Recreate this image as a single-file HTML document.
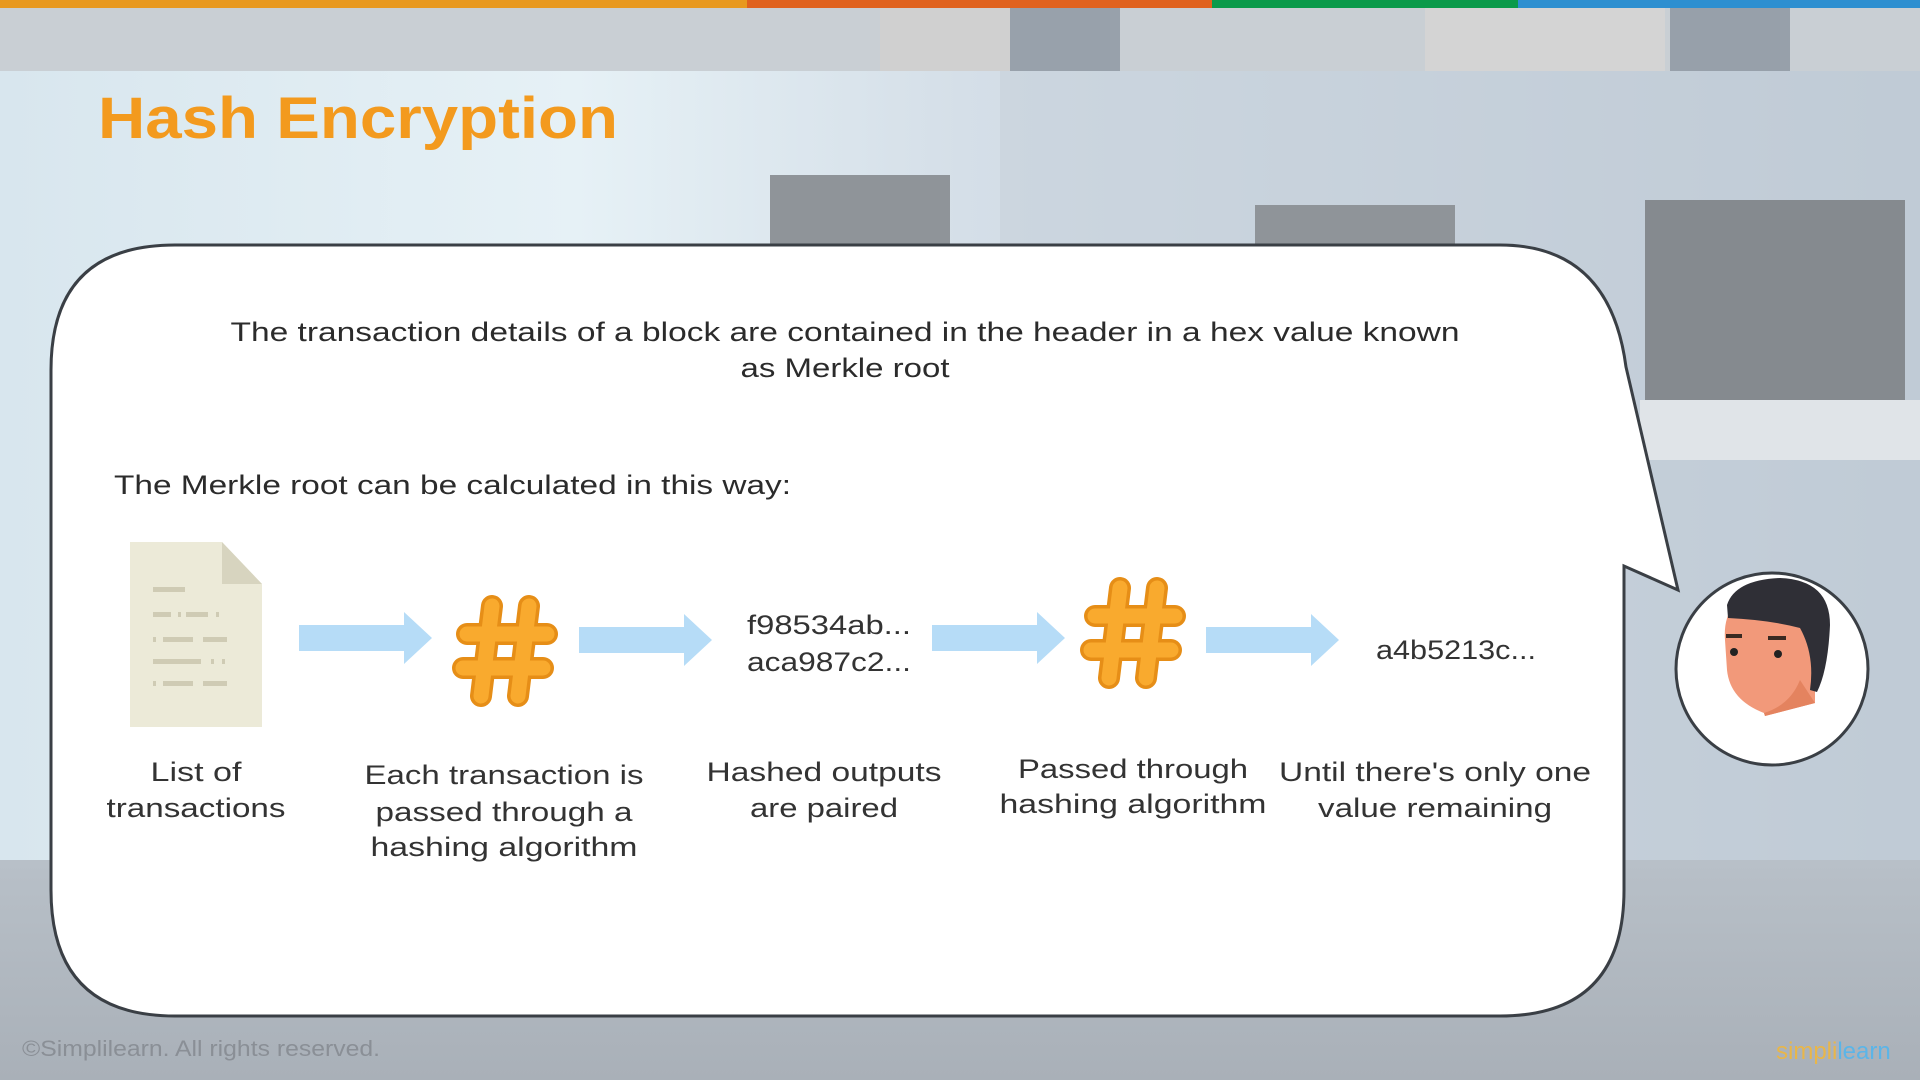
<!DOCTYPE html>
<html><head><meta charset="utf-8"><style>
html,body{margin:0;padding:0;width:1920px;height:1080px;overflow:hidden}
svg{display:block}
text{font-family:"Liberation Sans",sans-serif}
</style></head><body>
<svg width="1920" height="1080" viewBox="0 0 1920 1080" xmlns="http://www.w3.org/2000/svg">
<defs>
<linearGradient id="bg" x1="0" y1="0" x2="1" y2="0">
<stop offset="0" stop-color="#d8e6ee"/><stop offset="0.3" stop-color="#e6f1f6"/><stop offset="0.5" stop-color="#d5dfe8"/><stop offset="1" stop-color="#bcc8d4"/>
</linearGradient>
<linearGradient id="fl" x1="0" y1="0" x2="0" y2="1">
<stop offset="0" stop-color="#b8c0c8"/><stop offset="1" stop-color="#a9b0b8"/>
</linearGradient>
<g id="hash">
<g stroke="#e68e17" stroke-width="22" stroke-linecap="round">
<line x1="33" y1="8" x2="22" y2="98"/><line x1="70" y1="8" x2="59" y2="98"/>
<line x1="8" y1="36" x2="88" y2="36"/><line x1="4" y1="70" x2="84" y2="70"/>
</g>
<g stroke="#f9aa2e" stroke-width="15" stroke-linecap="round">
<line x1="33" y1="8" x2="22" y2="98"/><line x1="70" y1="8" x2="59" y2="98"/>
<line x1="8" y1="36" x2="88" y2="36"/><line x1="4" y1="70" x2="84" y2="70"/>
</g>
</g>
<polygon id="arr" points="0,-13 105,-13 105,-26 133,0 105,26 105,13 0,13" fill="#b6dcf7"/>
</defs>
<rect width="1920" height="1080" fill="url(#bg)"/>
<rect x="0" y="860" width="1920" height="220" fill="url(#fl)"/>
<rect x="1000" y="0" width="920" height="860" fill="#c4ced8" opacity="0.5"/>
<rect x="770" y="175" width="180" height="80" fill="#8f9499"/>
<rect x="1255" y="205" width="200" height="60" fill="#8f9499"/>
<rect x="1645" y="200" width="260" height="200" fill="#858a8f"/>
<rect x="1640" y="400" width="280" height="60" fill="#e0e4e8"/>
<rect x="0" y="8" width="1920" height="63" fill="#c9cfd4"/>
<rect x="880" y="8" width="240" height="63" fill="#d0d0d0"/>
<rect x="1010" y="8" width="110" height="63" fill="#98a1ab"/>
<rect x="1425" y="8" width="240" height="63" fill="#d4d4d4"/>
<rect x="1670" y="8" width="120" height="63" fill="#97a0aa"/>
<rect x="0" y="0" width="747" height="8" fill="#e8991f"/>
<rect x="747" y="0" width="465" height="8" fill="#e0621e"/>
<rect x="1212" y="0" width="306" height="8" fill="#0a9a4a"/>
<rect x="1518" y="0" width="402" height="8" fill="#2d8fd0"/>
<text x="98" y="138" font-size="58" font-weight="bold" fill="#f39a1e" textLength="520" lengthAdjust="spacingAndGlyphs">Hash Encryption</text>
<path d="M175,245 L1500,245 Q1610,245 1626,367 L1678,590 L1624,566 L1624,890 Q1624,1016 1500,1016 L175,1016 Q51,1016 51,890 L51,370 Q51,245 175,245 Z" fill="#fff" stroke="#3a3f45" stroke-width="3"/>
<g font-size="27" fill="#2b2b2b" text-anchor="middle" lengthAdjust="spacingAndGlyphs">
<text x="845" y="341" textLength="1229" lengthAdjust="spacingAndGlyphs">The transaction details of a block are contained in the header in a hex value known</text>
<text x="845" y="377" textLength="209" lengthAdjust="spacingAndGlyphs">as Merkle root</text>
</g>
<text x="114" y="494" font-size="27" fill="#2b2b2b" textLength="677" lengthAdjust="spacingAndGlyphs">The Merkle root can be calculated in this way:</text>
<path d="M130,542 L222,542 L262,584 L262,727 L130,727 Z" fill="#ecead8"/>
<path d="M222,542 L262,584 L222,584 Z" fill="#d7d4bf"/>
<g fill="#cfcbb4">
<rect x="153" y="587" width="32" height="5"/>
<rect x="153" y="612" width="18" height="5"/><rect x="178" y="612" width="3" height="5"/><rect x="186" y="612" width="22" height="5"/><rect x="216" y="612" width="3" height="5"/>
<rect x="153" y="637" width="3" height="5"/><rect x="163" y="637" width="30" height="5"/><rect x="203" y="637" width="24" height="5"/>
<rect x="153" y="659" width="48" height="5"/><rect x="211" y="659" width="3" height="5"/><rect x="222" y="659" width="3" height="5"/>
<rect x="153" y="681" width="3" height="5"/><rect x="163" y="681" width="30" height="5"/><rect x="203" y="681" width="24" height="5"/>
</g>
<use href="#arr" x="299" y="638"/>
<use href="#arr" x="579" y="640"/>
<use href="#arr" x="932" y="638"/>
<use href="#arr" x="1206" y="640"/>
<use href="#hash" x="459" y="598"/>
<use href="#hash" x="1087" y="580"/>
<g font-size="27" fill="#333" text-anchor="middle">
<text x="829" y="634" textLength="164" lengthAdjust="spacingAndGlyphs">f98534ab...</text>
<text x="829" y="671" textLength="164" lengthAdjust="spacingAndGlyphs">aca987c2...</text>
<text x="1456" y="659" textLength="160" lengthAdjust="spacingAndGlyphs">a4b5213c...</text>
<text x="196" y="781" textLength="91" lengthAdjust="spacingAndGlyphs">List of</text><text x="196" y="817" textLength="179" lengthAdjust="spacingAndGlyphs">transactions</text>
<text x="504" y="784" textLength="279" lengthAdjust="spacingAndGlyphs">Each transaction is</text><text x="504" y="821" textLength="257" lengthAdjust="spacingAndGlyphs">passed through a</text><text x="504" y="856" textLength="267" lengthAdjust="spacingAndGlyphs">hashing algorithm</text>
<text x="824" y="781" textLength="235" lengthAdjust="spacingAndGlyphs">Hashed outputs</text><text x="824" y="817" textLength="148" lengthAdjust="spacingAndGlyphs">are paired</text>
<text x="1133" y="778" textLength="230" lengthAdjust="spacingAndGlyphs">Passed through</text><text x="1133" y="813" textLength="267" lengthAdjust="spacingAndGlyphs">hashing algorithm</text>
<text x="1435" y="781" textLength="312" lengthAdjust="spacingAndGlyphs">Until there's only one</text><text x="1435" y="817" textLength="234" lengthAdjust="spacingAndGlyphs">value remaining</text>
</g>
<circle cx="1772" cy="669" r="96" fill="#fff" stroke="#3a3f45" stroke-width="3"/>
<path d="M1725,640 Q1722,600 1760,590 L1808,610 L1815,690 L1815,703 L1765,716 L1764,713 Q1730,700 1727,670 Z" fill="#f2997a"/>
<path d="M1800,680 L1815,703 L1765,716 L1764,713 Q1790,705 1800,680 Z" fill="#e4835f"/>
<path d="M1727,605 Q1735,580 1780,578 Q1830,580 1830,625 Q1828,670 1817,692 L1810,690 Q1815,655 1800,628 Q1770,620 1728,618 Z" fill="#2f2f36"/>
<circle cx="1734" cy="652" r="4" fill="#222"/><circle cx="1778" cy="654" r="4" fill="#222"/>
<rect x="1726" y="634" width="16" height="4" fill="#3a2a22"/><rect x="1768" y="636" width="18" height="4" fill="#3a2a22"/>
<text x="22" y="1056" font-size="22" fill="#8a8f96" textLength="358" lengthAdjust="spacingAndGlyphs">©Simplilearn. All rights reserved.</text>
<text x="1776" y="1059" font-size="24" fill="#e8b64a">simpli<tspan fill="#5bb5e8">learn</tspan></text>
</svg>
</body></html>
